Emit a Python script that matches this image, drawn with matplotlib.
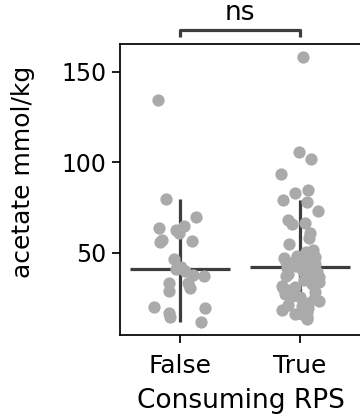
import matplotlib
matplotlib.use("Agg")
import matplotlib.pyplot as plt
import numpy as np
from matplotlib import cbook
from matplotlib.transforms import blended_transform_factory

# acetate (mmol/kg) by RPS consumption
categories = ["False", "True"]

acetate_false = [
    134.5, 79.8, 70.1, 64.9, 63.8, 62.7, 60.9, 57.2, 56.8, 56.3,
    46.5, 42.4, 41.0, 40.2, 37.8, 37.3, 33.4, 33.4, 30.5, 29.2,
    20.0, 19.6, 17.0, 14.8, 12.0,
]

acetate_true = [
    158.1, 106.0, 101.9, 93.5, 84.8, 83.3, 79.0, 78.3, 73.4, 68.2,
    66.4, 65.8, 60.9, 58.1, 55.0, 51.7, 50.5, 49.8, 49.2, 48.5,
    48.0, 47.5, 47.0, 46.5, 46.0, 45.5, 45.0, 44.6, 44.2, 43.8,
    43.5, 43.2, 42.9, 42.6, 42.3, 41.8, 41.2, 40.5, 40.0, 39.3,
    38.6, 38.0, 37.2, 36.5, 35.8, 35.0, 34.2, 33.5, 32.8, 32.0,
    31.2, 30.5, 29.8, 29.0, 28.2, 27.5, 26.5, 25.5, 24.5, 23.5,
    22.5, 21.5, 20.5, 19.5, 18.5, 17.5, 16.5, 15.5, 14.5, 13.5,
]

groups = [acetate_false, acetate_true]
sig_label = "ns"

POINT = "#aaaaaa"
LINE = "#3d3d3d"

plt.rcParams["font.family"] = "DejaVu Sans"
plt.rcParams["font.size"] = 18

fig = plt.figure(figsize=(3.6, 4.18), dpi=100)
ax = fig.add_axes([120 / 360, 1 - 335 / 418, 242 / 360, 291 / 418])

rng = np.random.default_rng(3)
stats = cbook.boxplot_stats(groups, whis=1.5)
jitter = [0.22, 0.17]

for i, (vals, st) in enumerate(zip(groups, stats)):
    # whisker range and median drawn under the points
    ax.vlines(i, st["whislo"], st["whishi"], color=LINE, lw=2.3, zorder=1)
    ax.hlines(st["med"], i - 0.42, i + 0.42, color=LINE, lw=2.3, zorder=1)
    x = i + rng.uniform(-jitter[i], jitter[i], len(vals))
    ax.scatter(x, vals, s=78, color=POINT, linewidths=0, zorder=2)

ax.set_xlim(-0.5, 1.5 + 2 / 120)
ax.set_xticks(range(len(categories)))
ax.set_xticklabels(categories, fontsize=18)
ax.set_yticks([50, 100, 150])
ax.tick_params(axis="y", labelsize=17)
ax.tick_params(axis="x", pad=8)
ax.set_xlabel("Consuming RPS", fontsize=19, labelpad=7)
ax.set_ylabel("acetate mmol/kg", fontsize=18)
ax.yaxis.set_label_coords(-0.35, 0.56)

for side in ["left", "right", "top", "bottom"]:
    ax.spines[side].set_linewidth(1.25)
ax.tick_params(length=6, width=1.25)

# significance bracket above the axes
tr = blended_transform_factory(ax.transData, ax.transAxes)
ax.plot([0, 0, 1, 1], [1.024, 1.048, 1.048, 1.024], color=LINE, lw=2.3,
        transform=tr, clip_on=False, solid_capstyle="butt")
ax.text(0.5, 1.062, sig_label, ha="center", va="bottom", fontsize=19,
        transform=tr)

fig.savefig("out.png", dpi=100)
